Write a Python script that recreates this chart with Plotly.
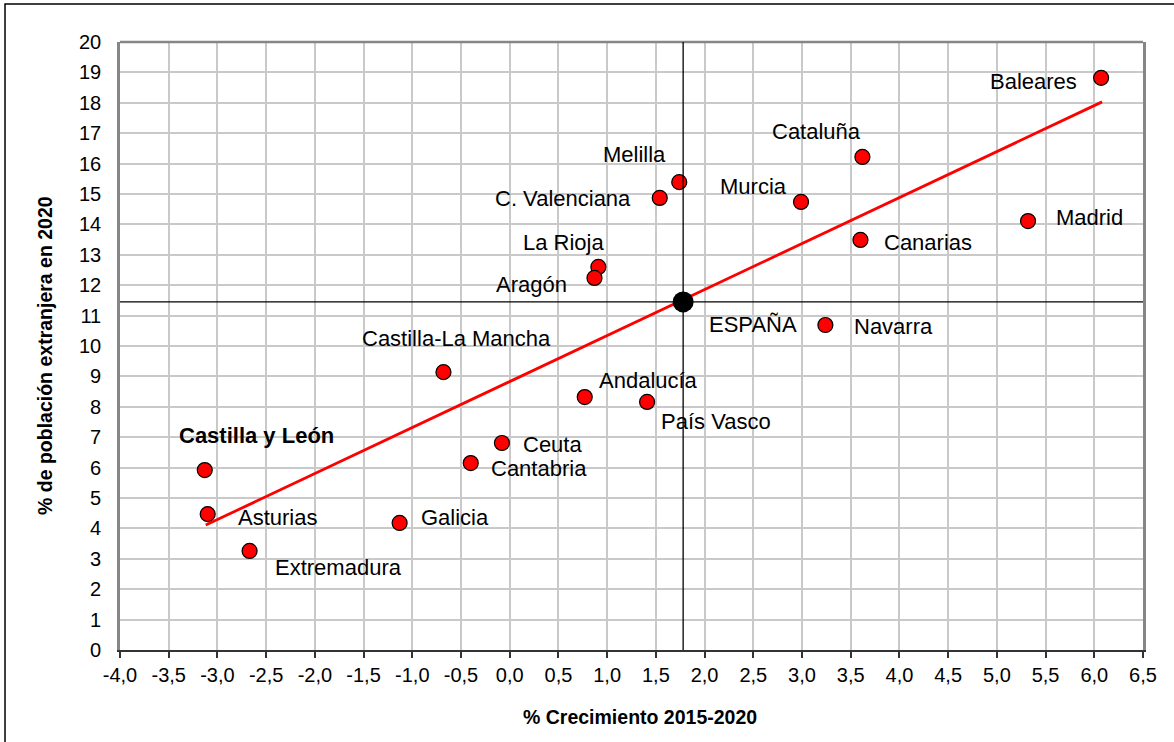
import plotly.graph_objects as go

# ---- data ----
regions = ["Baleares", "Cataluña", "Madrid", "Canarias", "Murcia", "Navarra",
           "Melilla", "C. Valenciana", "La Rioja", "Aragón", "Castilla-La Mancha",
           "Andalucía", "País Vasco", "Ceuta", "Cantabria", "Galicia",
           "Castilla y León", "Asturias", "Extremadura"]
growth = [6.07, 3.62, 5.32, 3.60, 2.99, 3.24,
          1.74, 1.54, 0.91, 0.87, -0.68,
          0.77, 1.41, -0.08, -0.40, -1.13,
          -3.13, -3.10, -2.67]
foreign_share = [18.82, 16.22, 14.11, 13.49, 14.74, 10.69,
                 15.39, 14.87, 12.60, 12.24, 9.14,
                 8.32, 8.16, 6.81, 6.15, 4.18,
                 5.92, 4.47, 3.26]

spain_name = "ESPAÑA"
spain_growth = [1.78]
spain_share = [11.45]

trend_x = [-3.12, 6.08]
trend_y = [4.11, 18.03]

x_tick_vals = [-4.0, -3.5, -3.0, -2.5, -2.0, -1.5, -1.0, -0.5, 0.0, 0.5, 1.0,
               1.5, 2.0, 2.5, 3.0, 3.5, 4.0, 4.5, 5.0, 5.5, 6.0, 6.5]
x_tick_text = ["-4,0", "-3,5", "-3,0", "-2,5", "-2,0", "-1,5", "-1,0", "-0,5",
               "0,0", "0,5", "1,0", "1,5", "2,0", "2,5", "3,0", "3,5", "4,0",
               "4,5", "5,0", "5,5", "6,0", "6,5"]
y_tick_vals = list(range(0, 21))
y_tick_text = [str(v) for v in y_tick_vals]

x_title = "% Crecimiento 2015-2020"
y_title = "% de población extranjera en 2020"

# ---- label placement (style): xanchor, dx (px, right), dy (px, down) ----
label_pos = {
    "Baleares": ("right", -22, 4),
    "Cataluña": ("right", 1, -25),
    "Madrid": ("left", 26, -4),
    "Canarias": ("left", 22, 3),
    "Murcia": ("right", -12, -15),
    "Navarra": ("left", 27, 1),
    "Melilla": ("right", -11, -28),
    "C. Valenciana": ("right", -27, 1),
    "La Rioja": ("right", 8, -24),
    "Aragón": ("right", -25, 7),
    "Castilla-La Mancha": ("center", 13, -34),
    "Andalucía": ("left", 12, -17),
    "País Vasco": ("left", 12, 20),
    "Ceuta": ("left", 19, 2),
    "Cantabria": ("left", 18, 5),
    "Galicia": ("left", 19, -5),
    "Castilla y León": ("left", -28, -35),
    "Asturias": ("left", 28, 3),
    "Extremadura": ("left", 23, 17),
    "ESPAÑA": ("left", 24, 23),
}

FONT = "Liberation Sans, Arial, sans-serif"

fig = go.Figure()

fig.add_trace(go.Scatter(
    x=growth, y=foreign_share, mode="markers",
    marker=dict(size=15, color="#ff0000", line=dict(color="black", width=1.2)),
    hoverinfo="skip", showlegend=False))

fig.add_trace(go.Scatter(
    x=trend_x, y=trend_y, mode="lines",
    line=dict(color="#ff0000", width=2.8),
    hoverinfo="skip", showlegend=False))

fig.add_trace(go.Scatter(
    x=spain_growth, y=spain_share, mode="markers",
    marker=dict(size=21, color="black", line=dict(color="black", width=0)),
    hoverinfo="skip", showlegend=False))

annotations = []
names = regions + [spain_name]
xs = growth + spain_growth
ys = foreign_share + spain_share
for name, xv, yv in zip(names, xs, ys):
    anchor, dx, dy = label_pos[name]
    text = "<b>%s</b>" % name if name == "Castilla y León" else name
    annotations.append(dict(
        x=xv, y=yv, xref="x", yref="y", text=text, showarrow=False,
        xanchor=anchor, yanchor="middle", xshift=dx, yshift=-dy,
        font=dict(family=FONT, size=22, color="black")))

annotations.append(dict(
    x=0.508, y=-0.110, xref="paper", yref="paper", text="<b>%s</b>" % x_title,
    showarrow=False, xanchor="center", yanchor="middle",
    font=dict(family=FONT, size=19.5, color="black")))
annotations.append(dict(
    x=-0.0733, y=0.4836, xref="paper", yref="paper", text="<b>%s</b>" % y_title,
    showarrow=False, xanchor="center", yanchor="middle", textangle=-90,
    font=dict(family=FONT, size=19.5, color="black")))

shapes = [
    # outer chart border
    dict(type="rect", xref="paper", yref="paper", x0=-0.1124, x1=1.04,
         y0=-0.17, y1=1.0625, line=dict(color="black", width=1.5), layer="below"),
    # top border of plot area
    dict(type="line", xref="paper", yref="paper", x0=0, x1=1, y0=1, y1=1,
         line=dict(color="#868686", width=2.6), layer="above"),
    # crosshairs through Spain's average
    dict(type="line", xref="x", yref="paper", x0=spain_growth[0], x1=spain_growth[0],
         y0=0, y1=1, line=dict(color="black", width=1.3), layer="above"),
    dict(type="line", xref="paper", yref="y", x0=0, x1=1,
         y0=spain_share[0], y1=spain_share[0],
         line=dict(color="black", width=1.3), layer="above"),
]

fig.update_layout(
    width=1174, height=742,
    margin=dict(l=120, r=31, t=42, b=92),
    paper_bgcolor="white", plot_bgcolor="white",
    font=dict(family=FONT, color="black"),
    showlegend=False,
    annotations=annotations,
    shapes=shapes,
    xaxis=dict(
        range=[-4.0, 6.5], tickvals=x_tick_vals, ticktext=x_tick_text,
        showgrid=True, gridcolor="#c9c9c9", gridwidth=1.5, zeroline=False,
        showline=True, linecolor="#333333", linewidth=2,
        ticks="outside", ticklen=6, tickwidth=1.5, tickcolor="#333333",
        tickfont=dict(family=FONT, size=20, color="black"),
    ),
    yaxis=dict(
        range=[0, 20], tickvals=y_tick_vals, ticktext=y_tick_text,
        showgrid=True, gridcolor="#c9c9c9", gridwidth=1.5, zeroline=False,
        showline=True, linecolor="#868686", linewidth=2.6, mirror=True,
        ticks="", ticklabelstandoff=12,
        tickfont=dict(family=FONT, size=20, color="black"),
    ),
)

fig.write_html("out.html",
               config={"displayModeBar": False},
               post_script="document.body.style.margin='0px';"
                           "document.body.style.overflow='hidden';")
